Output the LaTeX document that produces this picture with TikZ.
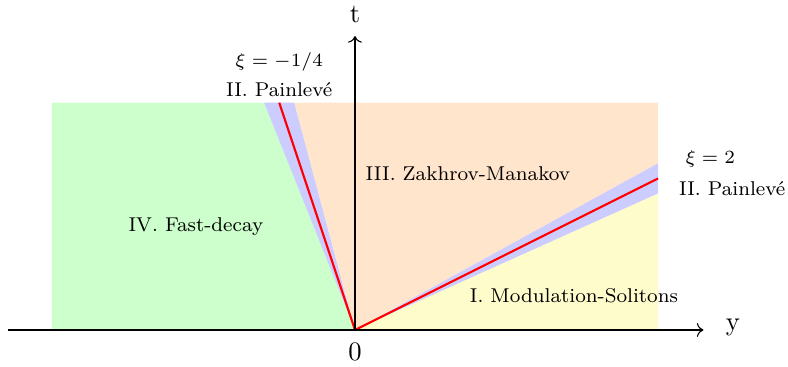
\documentclass[tikz,border=0pt]{standalone}
\usetikzlibrary{arrows.meta}
\begin{document}
\begin{tikzpicture}[x=1cm,y=1cm,
  lbl/.style={font=\fontsize{7.5}{9}\selectfont, inner sep=1pt},
  critline/.style={red, thick}]
\useasboundingbox (-4.686,-0.488) rectangle (5.716,4.356);
\coordinate (O) at (0,0);
\coordinate (L) at (-1,3);
\coordinate (R) at (4,2);
% regions
\fill[green!20] (-4,0) -- (-4,3) -- (-1.2,3) -- (O) -- cycle;
\fill[blue!20] (-1.2,3) -- (-0.8,3) -- (O) -- cycle;
\fill[orange!20] (-0.8,3) -- (4,3) -- (4,2.2) -- (O) -- cycle;
\fill[blue!20] (O) -- (4,2.2) -- (4,1.8) -- cycle;
\fill[yellow!20] (O) -- (4,1.8) -- (4,0) -- cycle;
% critical lines
\draw[critline] (O) -- (L);
\draw[critline] (O) -- (R);
% axes
\coordinate (xs) at (-4.58,0);
\coordinate (xe) at (4.6,0);
\coordinate (ye) at (0,3.88);
\draw[->] (xs) -- (xe);
\draw[->] (O) -- (ye);
\node (tl) at (0,4.17) {t};
\node (yl) at (4.99,0.03) {y};
\node (zl) at (0,-0.29) {0};
% labels
\node[lbl] (xl) at (-1.0,3.54) {$\xi=-1/4$};
\node[lbl] (pl) at (-1.0,3.17) {II. Painlev\'e};
\node[lbl] (xr) at (4.69,2.26) {$\xi=2$};
\node[lbl] (pr) at (4.98,1.87) {II. Painlev\'e};
\node[lbl] (zm) at (1.49,2.07) {III. Zakhrov-Manakov};
\node[lbl] (fd) at (-2.10,1.37) {IV. Fast-decay};
\node[lbl] (ms) at (2.89,0.45) {I. Modulation-Solitons};
\end{tikzpicture}
\end{document}
